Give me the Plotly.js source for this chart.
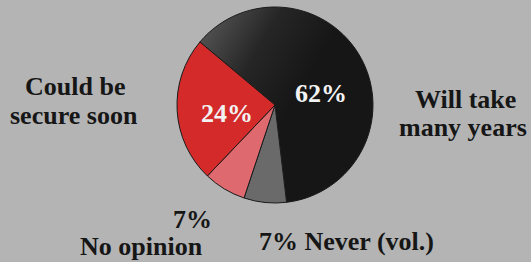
<!DOCTYPE html>
<html>
<head>
<meta charset="utf-8">
<script src="https://cdn.plot.ly/plotly-3.0.1.min.js"></script>
<style>
html,body{margin:0;padding:0;background:#b4b4b4;}
#chart{width:531px;height:262px;}
</style>
</head>
<body>
<div id="chart"></div>
<script>
const categories = ["Will take many years", "Never (vol.)", "No opinion", "Could be secure soon"];
const values = [62, 7, 7, 24];
const sliceColors = ["#1c1c1c", "#6a6a6a", "#de6a70", "#d42a2a"];
const pctLabels = values.map(v => v + "%");

const serif = "Liberation Serif, Times New Roman, serif";
const trace = {
  type: "pie",
  labels: categories,
  values: values,
  sort: false,
  direction: "clockwise",
  rotation: -50,
  textinfo: "none",
  hoverinfo: "label+percent",
  marker: {colors: sliceColors, line: {color: "#1a1a1a", width: 1}},
  domain: {x: [0.3333, 0.7024], y: [0.2252, 0.9733]},
  showlegend: false
};

const ann = (x, y, text, size, color) => ({
  x: x / 531, y: 1 - y / 262, xref: "paper", yref: "paper",
  text: text, showarrow: false, xanchor: "center", yanchor: "middle",
  font: {family: serif, size: size, color: color, weight: "bold"}
});

const FS = 26;
const ink = "#161616";
const layout = {
  width: 531, height: 262,
  margin: {l: 0, r: 0, t: 0, b: 0},
  paper_bgcolor: "#b4b4b4",
  plot_bgcolor: "#b4b4b4",
  annotations: [
    ann(321, 93, pctLabels[0], FS, "#f2f2f2"),
    ann(227, 113, pctLabels[3], FS, "#f2f2f2"),
    ann(75, 86, "Could be", FS, ink),
    ann(74, 115, "secure soon", FS, ink),
    ann(465, 99, "Will take", FS, ink),
    ann(463, 128, "many years", FS, ink),
    ann(192, 219, pctLabels[2], FS, ink),
    ann(141, 246, categories[2], FS, ink),
    ann(346, 241, pctLabels[1] + " " + categories[1], FS, ink)
  ]
};

Plotly.newPlot("chart", [trace], layout, {displayModeBar: false, staticPlot: true}).then(gd => {
  // shade the large slice with a soft grey-to-black gradient as in the reference
  const svg = gd.querySelector("svg.main-svg");
  const ns = "http://www.w3.org/2000/svg";
  let defs = svg.querySelector("defs");
  if (!defs) { defs = document.createElementNS(ns, "defs"); svg.insertBefore(defs, svg.firstChild); }
  const lg = document.createElementNS(ns, "linearGradient");
  lg.setAttribute("id", "bigSliceGrad");
  lg.setAttribute("x1", "0"); lg.setAttribute("y1", "0");
  lg.setAttribute("x2", "0.6"); lg.setAttribute("y2", "0.4");
  [["0", "#5e5e5e"], ["0.55", "#262626"], ["1", "#161616"]].forEach(([o, c]) => {
    const s = document.createElementNS(ns, "stop");
    s.setAttribute("offset", o); s.setAttribute("stop-color", c);
    lg.appendChild(s);
  });
  defs.appendChild(lg);
  const slices = gd.querySelectorAll("g.slice path.surface");
  if (slices.length) slices[0].style.fill = "url(#bigSliceGrad)";
});
</script>
</body>
</html>
